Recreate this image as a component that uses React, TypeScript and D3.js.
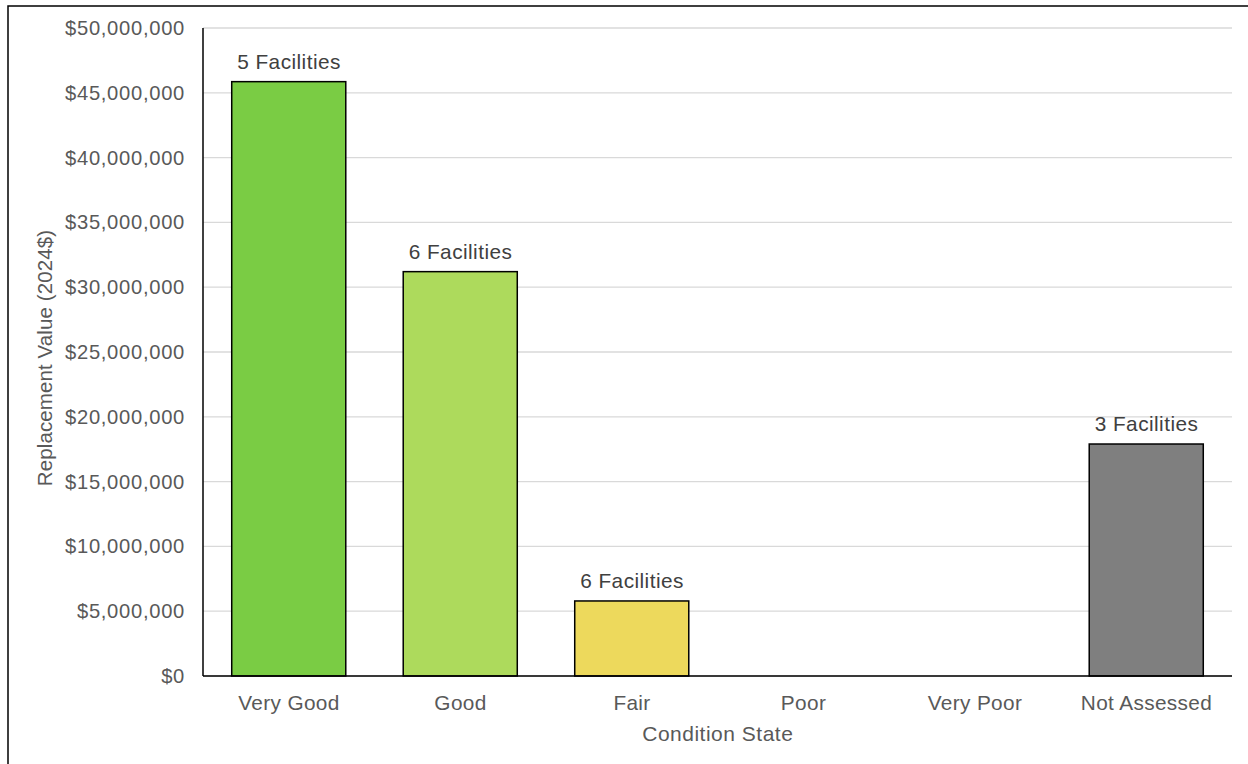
import React from "react";
import * as d3 from "d3";

// Replacement value by condition state
const categories = ["Very Good", "Good", "Fair", "Poor", "Very Poor", "Not Assessed"];
const values = [45860000, 31200000, 5790000, 0, 0, 17900000];
const facilityLabels = ["5 Facilities", "6 Facilities", "6 Facilities", "", "", "3 Facilities"];
const barColors = ["#7ACC44", "#ADDA5C", "#EDD95C", "#F2A33A", "#E0552F", "#7F7F7F"];
const yTicks = [0, 5000000, 10000000, 15000000, 20000000, 25000000, 30000000, 35000000, 40000000, 45000000, 50000000];

const W = 1248;
const H = 764;
const plot = { left: 203, right: 1232, top: 28, bottom: 676 };
const font = "'Liberation Sans', Arial, Helvetica, sans-serif";

export default function App() {
  const x = d3
    .scaleBand<string>()
    .domain(categories)
    .range([plot.left, plot.right])
    .paddingInner(0.335)
    .paddingOuter(0.1675);
  const y = d3.scaleLinear().domain([0, 50000000]).range([plot.bottom, plot.top]);
  const fmt = (v: number) => "$" + d3.format(",")(v);

  return (
    <svg
      width={W}
      height={H}
      style={{ position: "absolute", left: 0, top: 0, display: "block", background: "#fff" }}
    >
      {/* outer chart frame */}
      <rect x={8} y={6} width={1300} height={800} fill="#fff" stroke="#000" strokeWidth={1.5} />

      {/* horizontal gridlines */}
      {yTicks.map((t) => (
        <line
          key={"g" + t}
          x1={plot.left}
          x2={plot.right}
          y1={y(t)}
          y2={y(t)}
          stroke="#D9D9D9"
          strokeWidth={1.3}
        />
      ))}

      {/* y tick labels */}
      {yTicks.map((t) => (
        <text
          key={"t" + t}
          x={185}
          y={y(t)}
          dy="0.35em"
          textAnchor="end"
          fontFamily={font}
          fontSize={20.2}
          letterSpacing={0.7}
          fill="#595959"
        >
          {fmt(t)}
        </text>
      ))}

      {/* bars */}
      {categories.map((c, i) =>
        values[i] > 0 ? (
          <rect
            key={"b" + c}
            x={x(c)}
            y={y(values[i])}
            width={x.bandwidth()}
            height={y(0) - y(values[i])}
            fill={barColors[i]}
            stroke="#000"
            strokeWidth={1.5}
          />
        ) : null
      )}

      {/* facility count labels */}
      {categories.map((c, i) =>
        facilityLabels[i] ? (
          <text
            key={"l" + c}
            x={(x(c) as number) + x.bandwidth() / 2 + 0.3}
            y={y(values[i]) - 13}
            textAnchor="middle"
            fontFamily={font}
            fontSize={20.8}
            letterSpacing={0.45}
            fill="#404040"
          >
            {facilityLabels[i]}
          </text>
        ) : null
      )}

      {/* axis lines */}
      <line x1={plot.left} x2={plot.left} y1={plot.top} y2={plot.bottom} stroke="#000" strokeWidth={1.5} />
      <line x1={plot.left} x2={plot.right} y1={plot.bottom} y2={plot.bottom} stroke="#000" strokeWidth={1.5} />

      {/* category labels */}
      {categories.map((c) => (
        <text
          key={"c" + c}
          x={(x(c) as number) + x.bandwidth() / 2 + 0.25}
          y={710}
          textAnchor="middle"
          fontFamily={font}
          fontSize={20.8}
          letterSpacing={0.35}
          fill="#595959"
        >
          {c}
        </text>
      ))}

      {/* axis titles */}
      <text
        x={(plot.left + plot.right) / 2 + 0.3}
        y={741}
        textAnchor="middle"
        fontFamily={font}
        fontSize={21}
        letterSpacing={0.5}
        fill="#595959"
      >
        Condition State
      </text>
      <text
        transform={`translate(52, ${(plot.top + plot.bottom) / 2 + 6}) rotate(-90)`}
        textAnchor="middle"
        fontFamily={font}
        fontSize={20.5}
        letterSpacing={0.1}
        fill="#595959"
      >
        Replacement Value (2024$)
      </text>
    </svg>
  );
}
